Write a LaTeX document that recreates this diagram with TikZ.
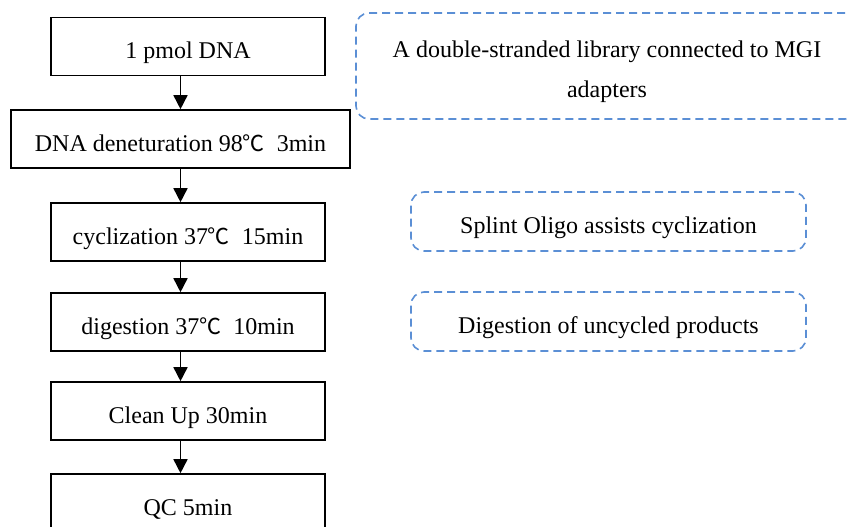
\documentclass[tikz,border=0pt]{standalone}
\usepackage{fontspec}
\setmainfont{Liberation Serif}
\newfontfamily\cjk{Noto Sans CJK SC}
\usetikzlibrary{arrows.meta}
\definecolor{dashblue}{RGB}{91,143,213}
\newcommand{\degC}{{\cjk\fontsize{22}{24}\selectfont ℃}}
\begin{document}
\begin{tikzpicture}[x=1pt,y=-1pt,
  stepbox/.style={draw=black,line width=1.6pt,rectangle,minimum height=58pt,inner sep=0pt,text height=24pt,text depth=0pt,font=\fontsize{24}{28}\selectfont},
  notebox/.style={draw=dashblue,line width=1.6pt,dash pattern=on 8pt off 5pt,rounded corners=13pt,rectangle,inner sep=0pt,align=center},
  arr/.style={line width=1.6pt,-{Triangle[length=14pt,width=14pt]}}]
\useasboundingbox (0,0) rectangle (847,527);
\clip (0,0) rectangle (847,527);
\node[stepbox,minimum width=274pt] (b1) at (188,46.5) {1 pmol DNA};
\node[stepbox,minimum width=339pt] (b2) at (180.5,139) {DNA deneturation 98\degC\ \ 3min};
\node[stepbox,minimum width=274pt] (b3) at (188,232) {cyclization 37\degC\ \ 15min};
\node[stepbox,minimum width=274pt] (b4) at (188,322) {digestion 37\degC\ \ 10min};
\node[stepbox,minimum width=274pt] (b5) at (188,411) {Clean Up 30min};
\node[stepbox,minimum width=274pt] (b6) at (188,503) {QC 5min};
\draw[arr] (b1.south -| b2.north) -- (b2.north);
\draw[arr] (b2.south) -- (b3.north -| b2.south);
\draw[arr] (b3.south -| b2.south) -- (b4.north -| b2.south);
\draw[arr] (b4.south -| b2.south) -- (b5.north -| b2.south);
\draw[arr] (b5.south -| b2.south) -- (b6.north -| b2.south);
\node[notebox,minimum width=502pt,minimum height=106pt] (n1) at (607,66) {};
\node[align=center,inner sep=0pt,font=\fontsize{24}{40}\selectfont] (n1t) at ([yshift=-6pt]n1.center) {A double-stranded library connected to MGI\\adapters};
\node[notebox,minimum width=395pt,minimum height=59pt,text height=24pt,text depth=0pt,font=\fontsize{24}{28}\selectfont] (n2) at (608.5,221.5) {Splint Oligo assists cyclization};
\node[notebox,minimum width=395pt,minimum height=59pt,text height=24pt,text depth=0pt,font=\fontsize{24}{28}\selectfont] (n3) at (608.5,321.5) {Digestion of uncycled products};
\end{tikzpicture}
\end{document}
